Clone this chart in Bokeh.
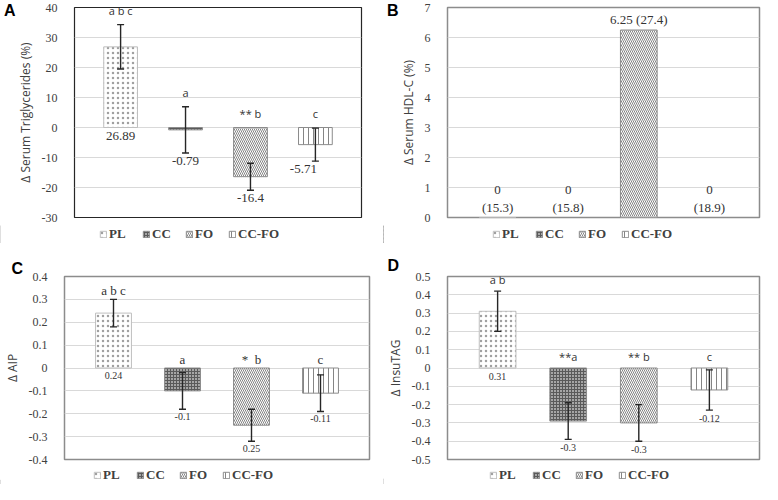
from bokeh.plotting import figure
from bokeh.layouts import column, row
from bokeh.models import (ColumnDataSource, Range1d, FixedTicker, Whisker, TeeHead,
                          Legend, LegendItem, LinearAxis, Title)
from bokeh.core.properties import value
from bokeh.embed import file_html
from bokeh.resources import INLINE

groups = ["PL", "CC", "FO", "CC-FO"]

# Panel A: change in serum triglycerides (%)
a_values = [26.89, -0.79, -16.4, -5.71]
a_errors = [7.4, 7.7, 4.5, 5.5]
a_labels = ["26.89", "-0.79", "-16.4", "-5.71"]
a_letters = ["a b c", "a", "** b", "c"]
a_ticks = [-30, -20, -10, 0, 10, 20, 30, 40]
a_tick_labels = ["-30", "-20", "-10", "0", "10", "20", "30", "40"]

# Panel B: change in serum HDL-C (%)
b_values = [0, 0, 6.25, 0]
b_labels = ["0\n(15.3)", "0\n(15.8)", "6.25 (27.4)", "0\n(18.9)"]
b_ticks = [0, 1, 2, 3, 4, 5, 6, 7]
b_tick_labels = ["0", "1", "2", "3", "4", "5", "6", "7"]

# Panel C: change in AIP
c_values = [0.24, -0.10, -0.25, -0.11]
c_errors = [0.06, 0.08, 0.07, 0.08]
c_labels = ["0.24", "-0.1", "0.25", "-0.11"]
c_letters = ["a b c", "a", "*\u00a0\u00a0b", "c"]
c_ticks = [-0.4, -0.3, -0.2, -0.1, 0, 0.1, 0.2, 0.3, 0.4]
c_tick_labels = ["-0.4", "-0.3", "-0.2", "-0.1", "0", "0.1", "0.2", "0.3", "0.4"]

# Panel D: change in InsuTAG
d_values = [0.31, -0.29, -0.30, -0.12]
d_errors = [0.11, 0.10, 0.10, 0.11]
d_labels = ["0.31", "-0.3", "-0.3", "-0.12"]
d_letters = ["a b", "**a", "** b", "c"]
d_ticks = [-0.5, -0.4, -0.3, -0.2, -0.1, 0, 0.1, 0.2, 0.3, 0.4, 0.5]
d_tick_labels = ["-0.5", "-0.4", "-0.3", "-0.2", "-0.1", "0", "0.1", "0.2", "0.3", "0.4", "0.5"]

# styles
HATCH = ["dot", "cross", "left_diagonal_line", "vertical_line"]
FILL = ["white", "#a6a6a6", "white", "white"]
HATCH_COLOR = ["#a0a0a0", "#5a5a5a", "#858585", "#858585"]
HATCH_WEIGHT = [0.6, 1, 1, 1]
LINE = ["#bfbfbf", "#8c8c8c", "#8c8c8c", "#8c8c8c"]
HATCH_SCALE = [5, 3, 4, 5]

SERIF = value("Liberation Serif")
SANS = value("Open Sans")


def bar_source(values, errors):
    n = len(values)
    errs = errors if errors is not None else [0] * n
    return ColumnDataSource(dict(
        x=list(range(n)), top=values,
        upper=[v + e for v, e in zip(values, errs)],
        lower=[v - e for v, e in zip(values, errs)],
        hatch=HATCH, fill=FILL, hcol=HATCH_COLOR, line=LINE, hs=HATCH_SCALE,
        hw=HATCH_WEIGHT,
    ))


def add_bars(p, src):
    return p.vbar(x="x", top="top", bottom=0, width=0.52, source=src,
                  fill_color="fill", line_color="line", line_width=1,
                  hatch_pattern="hatch", hatch_color="hcol", hatch_scale="hs",
                  hatch_weight="hw")


def panel(values, errors, labels, letters, yr, ticks, tick_labels, ylabel, letter,
          width, height, borders, outline, lab_size, lab_off, lab_dx,
          let_font, let_size, let_off, letter_mode):
    bl, br, bt, bb = borders
    p = figure(width=width, height=height, output_backend="svg", toolbar_location=None,
               x_range=Range1d(-0.71, 3.71), y_range=Range1d(*yr),
               x_axis_location=None, min_border_left=bl, min_border_right=br,
               min_border_top=bt, min_border_bottom=bb, tools="")
    p.background_fill_color = "white"
    p.border_fill_color = "white"
    p.outline_line_color = outline[0]
    p.outline_line_width = outline[1]
    p.xgrid.visible = False
    p.ygrid.grid_line_color = "#d9d9d9"
    p.ygrid.grid_line_width = 1
    ax = p.yaxis[0]
    ax.ticker = FixedTicker(ticks=ticks)
    ax.major_label_overrides = {t: s for t, s in zip(ticks, tick_labels)}
    ax.axis_line_color = None
    ax.major_tick_line_color = None
    ax.minor_tick_line_color = None
    ax.major_label_text_font = "Liberation Serif"
    ax.major_label_text_font_size = "12px"
    ax.major_label_text_color = "#404040"
    ax.major_label_standoff = 11
    ax.axis_label = ylabel
    ax.axis_label_text_font = "Open Sans"
    ax.axis_label_text_font_size = "12px"
    ax.axis_label_text_font_style = "normal"
    ax.axis_label_text_color = "#404040"
    ax.axis_label_standoff = 5

    if letter_mode[0] == "axis":
        lax = LinearAxis(ticker=FixedTicker(ticks=[yr[1]]),
                         major_label_overrides={yr[1]: letter},
                         axis_line_color=None, major_tick_line_color=None,
                         minor_tick_line_color=None, major_label_standoff=letter_mode[1],
                         major_label_text_font="Liberation Sans",
                         major_label_text_font_style="bold",
                         major_label_text_font_size="16px",
                         major_label_text_color="black")
        p.add_layout(lax, "left")
    else:
        p.title = Title(text=letter, align="left", offset=letter_mode[1],
                        standoff=letter_mode[2], text_font="Liberation Sans",
                        text_font_style="bold", text_font_size="16px",
                        text_color="black")

    src = bar_source(values, errors)
    add_bars(p, src)
    x = src.data["x"]
    upper = src.data["upper"]
    lower = src.data["lower"]

    if errors is not None:
        wk = Whisker(source=src, base="x", upper="upper", lower="lower",
                     line_color="#262626", line_width=1.4, level="overlay",
                     upper_head=TeeHead(size=7, line_color="#262626", line_width=1.4),
                     lower_head=TeeHead(size=7, line_color="#262626", line_width=1.4))
        p.add_layout(wk)
        lab_y = [min(0, l) for l in lower]
        lsrc = ColumnDataSource(dict(x=x, y=lab_y, text=labels, dx=lab_dx))
        p.text(x="x", y="y", text="text", source=lsrc, text_font=SERIF,
               text_font_size=lab_size, text_color="#333333", text_align="center",
               text_baseline="top", y_offset=lab_off, x_offset="dx")
        let_y = [max(0, u) for u in upper]
        tsrc = ColumnDataSource(dict(x=x, y=let_y, text=letters))
        p.text(x="x", y="y", text="text", source=tsrc, text_font=let_font,
               text_font_size=let_size, text_color="#333333", text_align="center",
               text_baseline="bottom", y_offset=let_off)
    else:
        lab_y = [max(0, v) for v in values]
        lsrc = ColumnDataSource(dict(x=x, y=lab_y, text=labels))
        p.text(x="x", y="y", text="text", source=lsrc, text_font=SERIF,
               text_font_size=lab_size, text_color="#333333", text_align="center",
               text_baseline="bottom", y_offset=lab_off, text_line_height=1.15)
    return p


def legend_strip(values, width, height, left):
    # a thin figure that only carries the legend; its bars lie outside its x range
    lp = figure(width=width, height=height, output_backend="svg", toolbar_location=None,
                x_range=Range1d(10, 11), y_range=Range1d(0, 1), tools="",
                x_axis_location=None, y_axis_location=None,
                min_border=0, min_border_left=0, min_border_right=0,
                min_border_top=0, min_border_bottom=0)
    lp.outline_line_color = None
    lp.grid.visible = False
    lp.background_fill_color = "white"
    lp.border_fill_color = "white"
    bars = add_bars(lp, bar_source(values, None))
    items = [LegendItem(label=g, renderers=[bars], index=i) for i, g in enumerate(groups)]
    legend = Legend(items=items, orientation="horizontal", location=(left, 0),
                    label_text_font="Liberation Serif", label_text_font_size="13px",
                    label_text_font_style="bold", label_text_color="#404040",
                    glyph_width=8, glyph_height=8, label_height=13, label_standoff=2,
                    spacing=13, padding=1, margin=0, border_line_alpha=0,
                    background_fill_alpha=0)
    lp.add_layout(legend)
    return lp


pa = panel(a_values, a_errors, a_labels, a_letters, (-30, 40), a_ticks, a_tick_labels,
           "Δ Serum Triglycerides (%)", "A", 383, 225, (53, 22, 7, 8), ("#262626", 1.2),
           "13px", 4, [0, 0, 0, -12], SANS, "11px", -7, ("axis", -8))
pb = panel(b_values, None, b_labels, None, (0, 7), b_ticks, b_tick_labels,
           "Δ Serum HDL-C (%)", "B", 379, 225, (43, 3, 7, 8), ("#8c8c8c", 1.5),
           "13px", -3, None, SANS, "11px", -7, ("axis", -8))
pc = panel(c_values, c_errors, c_labels, c_letters, (-0.4, 0.4), c_ticks, c_tick_labels,
           "Δ AIP", "C", 383, 223, (53, 14, 30, 7), ("#8c8c8c", 1.5),
           "10px", 4, [0, 0, 0, 0], SERIF, "13px", -1, ("title", -53, 0))
pd_ = panel(d_values, d_errors, d_labels, d_letters, (-0.5, 0.5), d_ticks, d_tick_labels,
            "Δ InsuTAG", "D", 379, 223, (62, 3, 33, 7), ("#8c8c8c", 1.5),
            "10px", 5, [0, 0, 0, 0], SANS, "11px", -4, ("title", -60, 5))

la = legend_strip(a_values, 383, 18, 98)
lb = legend_strip(b_values, 379, 18, 108)
lc = legend_strip(c_values, 383, 18, 92)
ld = legend_strip(d_values, 379, 18, 105)

layout = column(row(pa, pb), row(la, lb), row(pc, pd_), row(lc, ld))
open("out.html", "w").write(file_html(layout, INLINE))
